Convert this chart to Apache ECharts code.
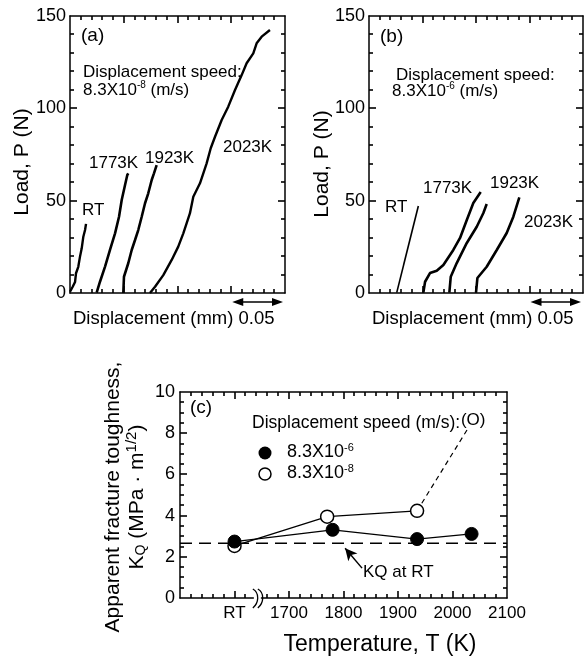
<!DOCTYPE html>
<html>
<head>
<meta charset="utf-8">
<script src="https://cdn.jsdelivr.net/npm/echarts@6/dist/echarts.min.js"></script>
<style>
html,body{margin:0;padding:0;background:#fff;}
#chart{width:584px;height:657px;}
</style>
</head>
<body>
<div id="chart"></div>
<script>
// ---------- DATA ----------
// Panel (a): displacement (mm) vs load (N), speed 8.3X10^-8 m/s
const aRT    = [[0,0.7],[0.0025,3.4],[0.0047,6.0],[0.0056,10.7],[0.0077,14.2],[0.0093,19.7],[0.0109,24.2],[0.0124,30.5],[0.014,34.1],[0.0149,37.4]];
const a1773  = [[0.0248,0.2],[0.0279,6.1],[0.0326,14.3],[0.0372,23.3],[0.0419,32.3],[0.0456,41.3],[0.0481,50.4],[0.0512,58.5],[0.0533,63.9],[0.0542,64.8]];
const a1923  = [[0.0496,0],[0.0502,8.8],[0.0542,16.1],[0.0574,23.3],[0.0605,28.7],[0.0635,34.1],[0.0667,41.3],[0.0698,48.6],[0.0728,54.0],[0.076,61.2],[0.0781,64.8],[0.0806,69.3]];
const a2023  = [[0.0744,0],[0.0791,3.4],[0.0868,9.7],[0.0946,17.9],[0.1007,25.1],[0.1054,32.3],[0.1116,43.2],[0.1147,52.1],[0.1209,59.4],[0.1271,70.2],[0.1309,78.4],[0.1349,84.6],[0.1411,93.7],[0.1472,100.9],[0.1535,109.9],[0.1597,118.0],[0.1643,124.4],[0.1705,129.8],[0.1736,135.2],[0.1783,138.8],[0.186,142.4]];
// Panel (b): speed 8.3X10^-6 m/s
const bRT    = [[0.0259,0.2],[0.0461,47.1]];
const b1773  = [[0.0508,0.2],[0.0524,6.1],[0.057,10.8],[0.0633,12.1],[0.0695,15.2],[0.0788,23.3],[0.0851,29.8],[0.0914,39.5],[0.0975,48.7],[0.1044,54.7]];
const b1923  = [[0.0751,0.2],[0.0764,8.8],[0.082,16.2],[0.0914,27.1],[0.1007,35.9],[0.1069,43.3],[0.11,48.2]];
const b2023  = [[0.1,0.2],[0.1013,8.1],[0.11,14.2],[0.1194,23.3],[0.1287,32.5],[0.1349,41.3],[0.1405,51.8]];
const curveLabels = ['RT','1773K','1923K','2023K'];
// Panel (c): temperature (RT drawn at 1600 on broken axis) vs K_Q
const cFastT = [1600,1780,1935,2035];
const cFastK = [2.74,3.31,2.86,3.11];
const cSlowT = [1600,1770,1935];
const cSlowK = [2.53,3.95,4.23];
const cSlowDashT = [1935,2030];
const cSlowDashK = [4.23,8.3];
const cParenPt = [2038,8.63];
const kqRT = 2.66;
const cXTicks = {1600:'RT',1700:'1700',1800:'1800',1900:'1900',2000:'2000',2100:'2100'};
const loadTicks = [0,50,100,150];
const kTicks = [0,2,4,6,8,10];

// ---------- LAYOUT ----------
const FF = '"Liberation Sans", Arial, Helvetica, sans-serif';
const blk = '#000';
const G = [
  {left:70,  top:16,  width:215, height:277, xmin:0,    xmax:0.2,  xint:0.05, xminor:5, ymin:0, ymax:150, yint:50, yminor:5},
  {left:369, top:16,  width:214, height:277, xmin:0,    xmax:0.2,  xint:0.05, xminor:5, ymin:0, ymax:150, yint:50, yminor:5},
  {left:180, top:392, width:327, height:206, xmin:1500, xmax:2100, xint:100,  xminor:5, ymin:0, ymax:10,  yint:2,  yminor:4}
];
const toPx = (g,x,y)=>[g.left+(x-g.xmin)/(g.xmax-g.xmin)*g.width, g.top+g.height-(y-g.ymin)/(g.ymax-g.ymin)*g.height];

const chart = echarts.init(document.getElementById('chart'), null, {renderer:'canvas'});
const pair = (t,k)=>t.map((v,i)=>[v,k[i]]);

function frameAxis(gi, pos, isX, lab){
  const g = G[gi];
  return {
    type:'value', gridIndex:gi, position:pos,
    min:isX?g.xmin:g.ymin, max:isX?g.xmax:g.ymax, interval:isX?g.xint:g.yint,
    splitLine:{show:false},
    axisLine:{show:true, onZero:false, lineStyle:{color:blk,width:1.5}},
    axisTick:{show:false},
    minorTick:{show:false},
    axisLabel:lab ? Object.assign({show:true, color:blk, fontFamily:FF}, lab) : {show:false}
  };
}
const loadLab = {fontSize:18, margin:4, formatter:v=>loadTicks.indexOf(v)>=0?String(v):''};
const xAxes = [
  frameAxis(0,'bottom',true), frameAxis(0,'top',true),
  frameAxis(1,'bottom',true), frameAxis(1,'top',true),
  frameAxis(2,'bottom',true,{fontSize:17, margin:7, formatter:v=>cXTicks[v]||''}), frameAxis(2,'top',true)
];
const yAxes = [
  frameAxis(0,'left',false,loadLab), frameAxis(0,'right',false),
  frameAxis(1,'left',false,loadLab), frameAxis(1,'right',false),
  frameAxis(2,'left',false,{fontSize:18, margin:5, formatter:v=>kTicks.indexOf(v)>=0?String(v):''}), frameAxis(2,'right',false)
];
function curve(data,xi,w){
  return {type:'line', xAxisIndex:xi, yAxisIndex:xi, data, symbol:'none', lineStyle:{color:blk,width:w}, silent:true};
}
const series = [
  curve(aRT,0,2.4), curve(a1773,0,2.6), curve(a1923,0,2.6), curve(a2023,0,2.4),
  curve(bRT,2,1.6), curve(b1773,2,2.6), curve(b1923,2,2.6), curve(b2023,2,2.6),
  {name:'8.3X10-8', type:'line', xAxisIndex:4, yAxisIndex:4, data:pair(cSlowT,cSlowK), symbol:'circle', symbolSize:13,
    lineStyle:{color:blk,width:1.3}, itemStyle:{color:'#fff',borderColor:blk,borderWidth:1.5}, z:3, silent:true},
  {name:'8.3X10-6', type:'line', xAxisIndex:4, yAxisIndex:4, data:pair(cFastT,cFastK), symbol:'circle', symbolSize:13,
    lineStyle:{color:blk,width:1.3}, itemStyle:{color:blk,borderColor:blk,borderWidth:1}, z:4, silent:true},
  {type:'line', xAxisIndex:4, yAxisIndex:4, data:pair(cSlowDashT,cSlowDashK), symbol:'none',
    lineStyle:{color:blk,width:1.2,type:[5,4]}, z:2, silent:true},
  {type:'line', xAxisIndex:4, yAxisIndex:4, data:[[1500,kqRT],[2100,kqRT]], symbol:'none', silent:true,
    lineStyle:{color:blk,width:1.5,type:[12,7]}, z:1,
    markLine:{silent:true, symbol:['none','arrow'], symbolSize:[9,12], label:{show:false},
      lineStyle:{color:blk,width:1.5,type:'solid'},
      data:[[{coord:[1834,1.45]},{coord:[1803,2.42]}]]}}
];

// ---------- AXIS TICKS (inward, on all four sides, following each axis scale) ----------
function ticksFor(g){
  const els = [];
  const bottom = g.top+g.height, right = g.left+g.width;
  const line = (x1,y1,x2,y2)=>({type:'line', silent:true, z:50, shape:{x1,y1,x2,y2}, style:{stroke:blk,lineWidth:1.6}});
  const nx = Math.round((g.xmax-g.xmin)/g.xint*g.xminor);
  for(let i=1;i<nx;i++){
    const len = i%g.xminor===0 ? 7 : 4;
    const p = Math.round(toPx(g, g.xmin + i*g.xint/g.xminor, g.ymin)[0]);
    els.push(line(p,bottom,p,bottom-len));
    els.push(line(p,g.top,p,g.top+len));
  }
  const ny = Math.round((g.ymax-g.ymin)/g.yint*g.yminor);
  for(let i=1;i<ny;i++){
    const len = i%g.yminor===0 ? 7 : 4;
    const p = Math.round(toPx(g, g.xmin, g.ymin + i*g.yint/g.yminor)[1]);
    els.push(line(g.left,p,g.left+len,p));
    els.push(line(right,p,right-len,p));
  }
  return els;
}

// ---------- ANNOTATIONS ----------
const supRich = {
  n:{fontSize:17, fontFamily:FF, color:blk},
  s:{fontSize:10, fontFamily:FF, color:blk, padding:[0,0,9,0]}
};
const legRich = {
  n:{fontSize:18, fontFamily:FF, color:blk},
  s:{fontSize:11, fontFamily:FF, color:blk, padding:[0,0,9,0]}
};
function T(x,y,text,size,extra){
  return {type:'text', x, y, silent:true, z:6,
    style:Object.assign({text, fill:blk, font: size+'px '+FF, verticalAlign:'middle', align:'left'}, extra||{})};
}
function RT_(x,y,text,size,rich){
  return {type:'text', x, y, rotation:Math.PI/2, silent:true,
    style:{text, fill:blk, font:size+'px '+FF, align:'center', verticalAlign:'middle', rich}};
}
function dblArrow(gi){
  const p1 = toPx(G[gi],0.15,0), p2 = toPx(G[gi],0.2,0);
  const y = p1[1] + 9, x1 = p1[0] + 1, x2 = p2[0] - 2, h = 11, w = 4;
  return [
    {type:'line', silent:true, shape:{x1:x1+h-2, y1:y, x2:x2-h+2, y2:y}, style:{stroke:blk, lineWidth:1.5}},
    {type:'polygon', silent:true, shape:{points:[[x1,y],[x1+h,y-w],[x1+h,y+w]]}, style:{fill:blk}},
    {type:'polygon', silent:true, shape:{points:[[x2,y],[x2-h,y-w],[x2-h,y+w]]}, style:{fill:blk}}
  ];
}
const brk = toPx(G[2],1641,0);
const bx = brk[0], by = brk[1];
const paren = toPx(G[2], cParenPt[0], cParenPt[1]);
const graphic = [
  // panel (a)
  T(81,36,'(a)',19),
  T(83,72,'Displacement speed:',17),
  T(83,90,'{n|8.3X10}{s|-8}{n| (m/s)}',17,{rich:supRich}),
  T(82,210,curveLabels[0],17), T(89,163,curveLabels[1],17), T(145,158,curveLabels[2],17), T(223,147,curveLabels[3],17),
  RT_(22,162,'Load, P (N)',21),
  T(73,319,'Displacement (mm) 0.05',18.5),
  // panel (b)
  T(380,37,'(b)',19),
  T(396,75,'Displacement speed:',17),
  T(392,91,'{n|8.3X10}{s|-6}{n| (m/s)}',17,{rich:supRich}),
  T(385,207,curveLabels[0],17), T(423,188,curveLabels[1],17), T(490,183,curveLabels[2],17), T(524,222,curveLabels[3],17),
  RT_(322,164,'Load, P (N)',21),
  T(372,319,'Displacement (mm) 0.05',18.5),
  // panel (c)
  T(190,408,'(c)',19),
  T(252,423,'Displacement speed (m/s):',17.5),
  T(paren[0],paren[1],'(O)',17,{align:'center'}),
  {type:'circle', silent:true, shape:{cx:265, cy:453, r:6.5}, style:{fill:blk}},
  {type:'circle', silent:true, shape:{cx:265, cy:474, r:6}, style:{fill:'#fff', stroke:blk, lineWidth:1.5}},
  T(287,452,'{n|8.3X10}{s|-6}',18,{rich:legRich}),
  T(287,473,'{n|8.3X10}{s|-8}',18,{rich:legRich}),
  T(363,572,'KQ at RT',17),
  T(380,645,'Temperature, T (K)',23,{align:'center'}),
  RT_(113,497,'Apparent fracture toughness,',21),
  RT_(137,497,'{n|K}{sub|Q}{n| (MPa · m}{sup|1/2}{n|)}',21,
    {n:{fontSize:21,fontFamily:FF,color:blk}, sub:{fontSize:14,fontFamily:FF,color:blk,padding:[8,0,0,0]}, sup:{fontSize:15,fontFamily:FF,color:blk,padding:[0,0,10,0]}})
].concat(dblArrow(0), dblArrow(1), ticksFor(G[0]), ticksFor(G[1]), ticksFor(G[2]), [
  // axis break mark (drawn over the ticks)
  {type:'rect', silent:true, z:100, shape:{x:bx-3, y:by-8, width:7, height:12}, style:{fill:'#fff'}},
  {type:'bezierCurve', silent:true, z:101, shape:{x1:bx-4,y1:by-9,cpx1:bx+3,cpy1:by-5,cpx2:bx+2,cpy2:by+5,x2:bx-4,y2:by+10}, style:{stroke:blk,lineWidth:1.3,fill:null}},
  {type:'bezierCurve', silent:true, z:101, shape:{x1:bx+1,y1:by-9,cpx1:bx+8,cpy1:by-5,cpx2:bx+7,cpy2:by+5,x2:bx+1,y2:by+10}, style:{stroke:blk,lineWidth:1.3,fill:null}}
]);

chart.setOption({
  animation:false,
  grid:G.map(g=>({left:g.left, top:g.top, width:g.width, height:g.height})),
  xAxis:xAxes, yAxis:yAxes, series, graphic
});
</script>
</body>
</html>
